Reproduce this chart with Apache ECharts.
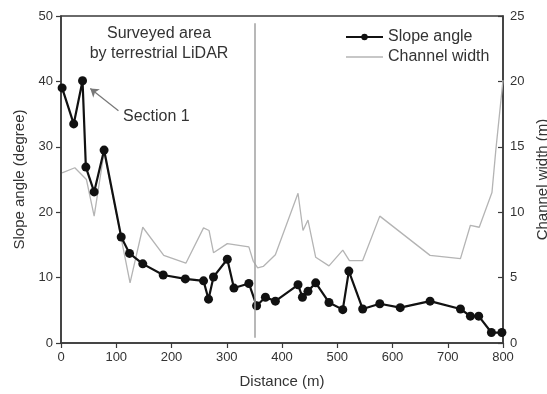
<!DOCTYPE html>
<html>
<head>
<meta charset="utf-8">
<script src="https://cdn.jsdelivr.net/npm/echarts@6/dist/echarts.min.js"></script>
<style>
  html, body {margin: 0; padding: 0; background: #fff;}
  #main {width: 547px; height: 394px;}
</style>
</head>
<body>
<div id="main"></div>
<script>
// slope angle along the channel (left axis, degree)
const slopeDistance = [2, 23, 39, 45, 60, 78, 109, 124, 148, 185, 225, 258, 267, 276, 301, 313, 340, 354,
  370, 388, 429, 437, 447, 461, 485, 510, 521, 546, 577, 614, 668, 723, 741, 756, 779, 798];
const slopeAngle = [39, 33.5, 40.1, 26.9, 23.1, 29.5, 16.2, 13.7, 12.1, 10.4, 9.8, 9.5, 6.7, 10.1, 12.8, 8.4, 9.1, 5.7,
  7.0, 6.4, 8.9, 7.0, 7.9, 9.2, 6.2, 5.1, 11.0, 5.2, 6.0, 5.4, 6.4, 5.2, 4.1, 4.1, 1.6, 1.6];

// channel width (right axis, m)
const widthDistance = [2, 25, 46, 60, 78, 125, 148, 186, 226, 258, 268, 276, 301, 340, 348, 356, 366, 388,
  429, 438, 447, 461, 485, 510, 522, 546, 577, 668, 723, 741, 757, 780, 787, 800];
const channelWidth = [13.0, 13.4, 12.5, 9.7, 14.6, 4.6, 8.85, 6.7, 6.1, 8.8, 8.6, 6.9, 7.6, 7.35, 6.25, 5.75, 5.85, 6.75,
  11.45, 8.6, 9.4, 6.55, 5.9, 7.1, 6.3, 6.3, 9.7, 6.7, 6.45, 9.0, 8.85, 11.5, 14.75, 20.1];

const xTicks = [0, 800, 100];      // min, max, interval
const slopeTicks = [0, 50, 10];
const widthTicks = [0, 25, 5];
const surveyEdge = 350;            // end of the LiDAR survey (m)
const sectionArrow = [[104, 35.5], [53, 38.9]];

const textColor = '#333';
const axisColor = '#3a3a3a';
const font = 'Liberation Sans, Arial, sans-serif';

const chart = echarts.init(document.getElementById('main'), null, {renderer: 'canvas'});

const yAxisBase = (ticks, name, pos, gap) => ({
  type: 'value',
  position: pos,
  min: ticks[0], max: ticks[1], interval: ticks[2],
  name: name,
  nameLocation: 'middle',
  nameGap: gap,
  nameTextStyle: {color: textColor, fontSize: 15, fontFamily: font},
  axisLine: {show: true, lineStyle: {color: axisColor, width: 1.5}},
  axisTick: {show: true, length: 5, inside: pos === 'right', lineStyle: {color: axisColor, width: 1.2}},
  axisLabel: {color: textColor, fontSize: 13, fontFamily: font, margin: pos === 'right' ? 7 : 8},
  splitLine: {show: false},
});

chart.setOption({
  animation: false,
  backgroundColor: '#fff',
  grid: {
    left: 61, right: 44, top: 16, bottom: 51,
    outerBoundsMode: 'none',
    show: true, borderColor: axisColor, borderWidth: 1.5,
  },
  legend: {
    orient: 'vertical',
    left: 345,
    top: 29,
    padding: 0,
    itemWidth: 37,
    itemHeight: 8,
    itemGap: 4,
    textStyle: {color: textColor, fontSize: 16, fontFamily: font},
    data: [
      'Slope angle',
      {name: 'Channel width', icon: 'path://M0,0H37V1.3H0Z'},
    ],
  },
  graphic: [
    {type: 'text', style: {text: 'Surveyed area', fill: textColor, font: '16px ' + font, textAlign: 'center'}, position: [159, 26]},
    {type: 'text', style: {text: 'by terrestrial LiDAR', fill: textColor, font: '16px ' + font, textAlign: 'center'}, position: [159, 46]},
    {type: 'text', style: {text: 'Section 1', fill: textColor, font: '16px ' + font}, position: [123, 109]},
  ],
  xAxis: {
    type: 'value',
    min: xTicks[0], max: xTicks[1], interval: xTicks[2],
    name: 'Distance (m)',
    nameLocation: 'middle',
    nameGap: 31,
    nameTextStyle: {color: textColor, fontSize: 15, fontFamily: font},
    axisLine: {show: true, lineStyle: {color: axisColor, width: 1.5}},
    axisTick: {show: true, length: 5, lineStyle: {color: axisColor, width: 1.2}},
    axisLabel: {color: textColor, fontSize: 13, fontFamily: font, margin: 8},
    splitLine: {show: false},
  },
  yAxis: [
    yAxisBase(slopeTicks, 'Slope angle (degree)', 'left', 34),
    yAxisBase(widthTicks, 'Channel width (m)', 'right', 30),
  ],
  series: [
    {
      name: 'Channel width',
      type: 'line',
      yAxisIndex: 1,
      data: widthDistance.map((d, i) => [d, channelWidth[i]]),
      showSymbol: false,
      symbol: 'none',
      lineStyle: {color: '#b4b4b4', width: 1.3},
      itemStyle: {color: '#b4b4b4'},
      markLine: {
        silent: true,
        symbol: 'none',
        label: {show: false},
        lineStyle: {color: '#a0a0a0', width: 1.5, type: 'solid'},
        data: [[{coord: [surveyEdge, 24.45]}, {coord: [surveyEdge, 0.4]}]],
      },
    },
    {
      name: 'Slope angle',
      type: 'line',
      yAxisIndex: 0,
      data: slopeDistance.map((d, i) => [d, slopeAngle[i]]),
      symbol: 'circle',
      symbolSize: 9,
      lineStyle: {color: '#111', width: 2.2},
      itemStyle: {color: '#111'},
      markLine: {
        silent: true,
        symbol: ['none', 'arrow'],
        symbolSize: 8,
        label: {show: false},
        lineStyle: {color: '#777', width: 1.2, type: 'solid'},
        data: [[{coord: sectionArrow[0]}, {coord: sectionArrow[1]}]],
      },
    },
  ],
});
</script>
</body>
</html>
